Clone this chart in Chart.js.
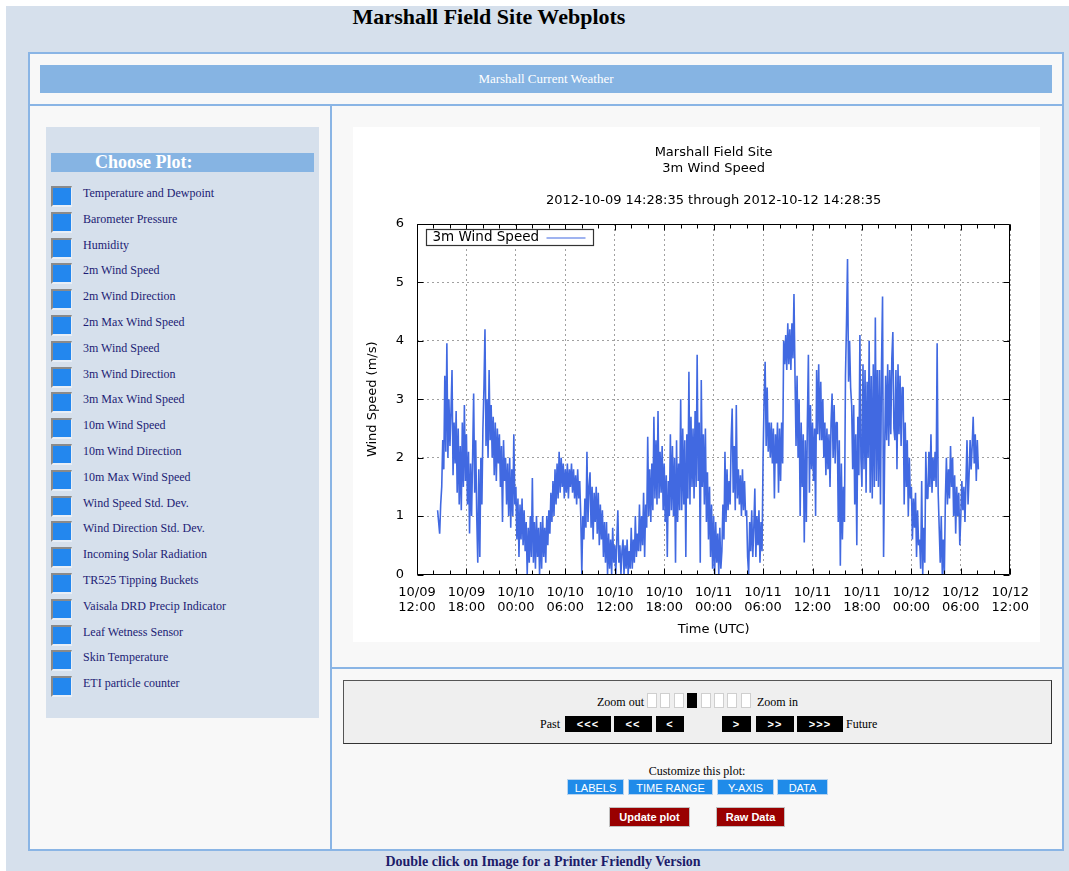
<!DOCTYPE html>
<html>
<head>
<meta charset="utf-8">
<title>Marshall Field Site Webplots</title>
<script src="https://cdn.jsdelivr.net/npm/chart.js@4/dist/chart.umd.min.js"></script>
<style>
  body { margin:0; background:#fff; font-family:"Liberation Serif", "Times New Roman", serif; }
  .abs { position:absolute; box-sizing:border-box; }
  #page { left:6px; top:6px; width:1063px; height:865px; background:#d6e0ec; }
  #title { left:0; top:6px; width:978px; text-align:center; font-size:22px; line-height:22px; font-weight:bold; color:#000; }
  #main { left:28px; top:52px; width:1036px; height:799px; border:2px solid #8ab5e5; background:#f8f8f8; }
  .hline { height:2px; background:#8ab5e5; }
  .vline { width:2px; background:#8ab5e5; }
  #weather { left:40px; top:65px; width:1012px; height:28px; background:#86b4e3; color:#fff; font-size:13px; line-height:27px; text-align:center; }
  #leftPanel { left:46px; top:127px; width:273px; height:591px; background:#d6e0ec; }
  #choose { left:51px; top:153px; width:263px; height:19px; background:#86b4e3; color:#fff; font-size:18px; font-weight:bold; line-height:19px; padding-left:44px; }
  .chk { width:21px; height:21px; background:#2387ee; border-left:2px solid #8a8a8a; border-top:2px solid #8a8a8a; border-right:1px solid #e8eef6; border-bottom:2px solid #e8eef6; }
  .item { font-size:12px; color:#1c1c74; line-height:14px; white-space:nowrap; }
  #chartBox { left:353px; top:127px; width:687px; height:515px; background:#fff; }
  #ctrl { left:343px; top:680px; width:709px; height:64px; background:#efefef; border:1px solid #555; border-right-color:#333; border-bottom-color:#333; }
  .lbl { font-size:12px; color:#000; line-height:16px; white-space:nowrap; }
  .zb { width:10px; height:15px; background:#fff; border:1px solid #cfcfcf; }
  .zb.on { background:#000; border-color:#000; }
  .nav { height:16px; background:#000; color:#fff; font:bold 11px "Liberation Sans", Arial, sans-serif; line-height:16px; text-align:center; letter-spacing:1px; }
  .cust { height:16px; background:#1f8be9; color:#fff; font:11px "Liberation Sans", Arial, sans-serif; line-height:16px; text-align:center; border:1px solid #b8d4f0; }
  .red { height:20px; background:#990000; color:#fff; font:bold 11px "Liberation Sans", Arial, sans-serif; line-height:18px; text-align:center; border:1px solid #c0c0c0; }
  #footer { left:28px; top:854px; width:1030px; text-align:center; font-size:14px; font-weight:bold; color:#1c1c6a; line-height:16px; }
</style>
</head>
<body>
<div id="page" class="abs"></div>
<div id="title" class="abs">Marshall Field Site Webplots</div>
<div id="main" class="abs"></div>
<div class="abs" id="weather">Marshall Current Weather</div>
<div class="abs hline" style="left:30px;top:104px;width:1032px;"></div>
<div class="abs vline" style="left:330px;top:104px;height:745px;"></div>
<div class="abs hline" style="left:332px;top:667px;width:730px;"></div>

<div id="leftPanel" class="abs"></div>
<div id="choose" class="abs">Choose Plot:</div>
<div id="plotList"></div>

<div id="chartBox" class="abs"><canvas id="windChart"></canvas></div>

<div id="ctrl" class="abs"></div>
<div class="abs lbl" style="left:597px;top:694px;">Zoom out</div>
<div id="zoomBoxes"></div>
<div class="abs lbl" style="left:757px;top:694px;">Zoom in</div>
<div class="abs lbl" style="left:540px;top:716px;">Past</div>
<div class="abs nav" style="left:565px;top:716px;width:46px;">&lt;&lt;&lt;</div>
<div class="abs nav" style="left:614px;top:716px;width:38px;">&lt;&lt;</div>
<div class="abs nav" style="left:656px;top:716px;width:28px;">&lt;</div>
<div class="abs nav" style="left:722px;top:716px;width:29px;">&gt;</div>
<div class="abs nav" style="left:756px;top:716px;width:38px;">&gt;&gt;</div>
<div class="abs nav" style="left:797px;top:716px;width:46px;">&gt;&gt;&gt;</div>
<div class="abs lbl" style="left:846px;top:716px;">Future</div>

<div class="abs lbl" style="left:597px;top:763px;width:200px;text-align:center;">Customize this plot:</div>
<div class="abs cust" style="left:567px;top:779px;width:57px;">LABELS</div>
<div class="abs cust" style="left:628px;top:779px;width:85px;">TIME RANGE</div>
<div class="abs cust" style="left:717px;top:779px;width:57px;">Y-AXIS</div>
<div class="abs cust" style="left:777px;top:779px;width:51px;">DATA</div>
<div class="abs red" style="left:609px;top:807px;width:81px;">Update plot</div>
<div class="abs red" style="left:716px;top:807px;width:69px;">Raw Data</div>

<div id="footer" class="abs">Double click on Image for a Printer Friendly Version</div>

<script>
// ---- left menu ----
const plotChoices = [
  "Temperature and Dewpoint", "Barometer Pressure", "Humidity", "2m Wind Speed",
  "2m Wind Direction", "2m Max Wind Speed", "3m Wind Speed", "3m Wind Direction",
  "3m Max Wind Speed", "10m Wind Speed", "10m Wind Direction", "10m Max Wind Speed",
  "Wind Speed Std. Dev.", "Wind Direction Std. Dev.", "Incoming Solar Radiation",
  "TR525 Tipping Buckets", "Vaisala DRD Precip Indicator", "Leaf Wetness Sensor",
  "Skin Temperature", "ETI particle counter"
];
const plotList = document.getElementById("plotList");
plotChoices.forEach((name, i) => {
  const top = 186 + i * 25.8;
  plotList.insertAdjacentHTML("beforeend",
    `<div class="abs chk" style="left:51px;top:${top}px;"></div>` +
    `<div class="abs item" style="left:83px;top:${top}px;">${name}</div>`);
});

// zoom level boxes (4th one is the current level)
const zoomBoxes = document.getElementById("zoomBoxes");
for (let i = 0; i < 8; i++) {
  zoomBoxes.insertAdjacentHTML("beforeend",
    `<div class="abs zb${i === 3 ? " on" : ""}" style="left:${647 + i * 13.4}px;top:693px;"></div>`);
}

// ---- chart data ----
// hours after 10/09 12:00 UTC, one reading every 7.5 min
const sampleStartHour = 2.5;
const sampleStepHours = 0.125;
const windSpeed = [
  1.1, 0.9, 0.7, 1.2,                         // h2.5
  1.5, 2.3, 1.8, 3.4, 2.1, 3.96, 2.0, 3.0,    // h3
  2.2, 2.8, 3.5, 1.7, 2.6, 1.9, 2.8, 1.4,     // h4
  2.5, 1.2, 2.2, 1.1, 2.6, 1.5, 2.9, 1.6,     // h5
  2.4, 1.2, 2.1, 0.7, 1.9, 1.0, 2.0, 3.1,     // h6
  1.4, 2.3, 1.0, 0.2, 1.8, 0.3, 2.0, 1.2,     // h7
  2.5, 3.2, 4.2, 2.2, 3.0, 2.0, 3.5, 2.3,     // h8
  2.9, 2.0, 2.7, 1.7, 2.6, 1.6, 2.5, 1.9,     // h9
  2.4, 1.5, 2.2, 0.9, 2.3, 1.6, 2.0, 1.2,     // h10
  1.9, 1.0, 2.0, 0.8, 1.8, 1.0, 2.4, 1.2,     // h11
  1.5, 0.6, 1.3, 0.3, 1.2, 0.6, 1.3, 0.5,     // h12
  1.1, 0.4, 0.9, 0.0, 0.8, 0.2, 1.0, 0.3,     // h13
  1.65, 0.2, 0.9, 0.1, 1.0, 0.3, 0.8, 0.0,    // h14
  0.9, 0.1, 1.0, 0.3, 0.8, 0.2, 1.0, 0.5,     // h15
  1.1, 0.7, 1.4, 0.9, 1.6, 1.0, 1.8, 1.2,     // h16
  1.9, 1.3, 2.1, 1.4, 2.0, 1.5, 1.9, 1.3,     // h17
  1.8, 1.4, 1.9, 1.3, 1.8, 1.5, 1.9, 1.4,     // h18
  1.8, 1.3, 1.7, 1.2, 1.8, 1.3, 1.6, 1.0,     // h19
  0.0, 1.0, 0.6, 1.3, 0.8, 2.1, 0.9, 1.5,     // h20
  1.75, 0.8, 1.5, 0.6, 1.4, 0.9, 1.5, 0.7,    // h21
  1.4, 0.5, 1.2, 0.6, 1.1, 0.3, 0.9, 0.2,     // h22
  0.9, 0.0, 0.7, 0.1, 0.6, 0.0, 0.8, 0.2,     // h23
  0.5, 0.0, 0.6, 1.1, 0.2, 0.5, 0.0, 0.4,     // h24
  0.6, 0.0, 0.5, 0.1, 0.6, 0.0, 0.4, 0.1,     // h25
  0.8, 0.1, 0.6, 0.2, 1.0, 0.3, 0.7, 0.4,     // h26
  1.2, 0.4, 1.0, 0.5, 1.4, 0.3, 1.2, 0.8,     // h27
  2.36, 1.0, 1.8, 0.9, 1.9, 1.1, 2.7, 1.3,    // h28
  2.3, 1.2, 2.8, 1.3, 2.1, 1.4, 2.2, 1.1,     // h29
  1.9, 0.9, 1.7, 0.3, 1.6, 1.0, 2.4, 1.1,     // h30
  2.2, 1.0, 2.0, 0.2, 2.3, 0.9, 1.9, 1.1,     // h31
  3.0, 1.1, 2.5, 1.2, 2.3, 0.3, 2.4, 1.3,     // h32
  3.47, 1.2, 2.7, 1.5, 2.5, 1.3, 2.8, 1.5,    // h33
  3.76, 1.6, 2.6, 0.2, 3.33, 1.5, 2.4, 1.2,   // h34
  2.5, 0.9, 1.75, 0.6, 1.5, 0.3, 1.2, 0.1,    // h35
  1.0, 0.0, 0.9, 0.2, 0.7, 0.0, 0.8, 0.1,     // h36
  0.4, 1.2, 0.6, 2.1, 0.9, 1.8, 1.1, 1.6,     // h37
  1.2, 2.3, 2.84, 1.4, 2.2, 1.1, 2.9, 1.3,    // h38
  1.8, 1.2, 1.7, 1.0, 1.8, 1.1, 1.6, 1.0,     // h39
  1.1, 0.3, 0.0, 0.9, 0.4, 1.1, 0.3, 0.8,     // h40
  1.47, 0.3, 1.0, 0.5, 1.1, 0.2, 0.9, 0.4,    // h41
  2.0, 3.0, 3.64, 2.2, 3.2, 2.1, 2.6, 2.0,    // h42
  2.6, 1.9, 2.5, 1.3, 2.4, 1.9, 2.6, 1.4,     // h43
  2.5, 1.6, 2.6, 1.9, 4.0, 3.6, 4.1, 3.5,     // h44
  4.3, 3.6, 4.2, 3.5, 4.3, 3.7, 4.8, 3.4,     // h45
  2.2, 3.4, 2.0, 3.0, 1.0, 2.6, 1.5, 2.4,     // h46
  0.55, 2.3, 0.9, 2.6, 3.76, 1.4, 2.9, 1.8,   // h47
  2.6, 1.6, 2.5, 1.0, 3.5, 2.4, 3.6, 2.3,     // h48
  3.3, 2.3, 3.0, 2.0, 2.6, 1.7, 2.5, 1.8,     // h49
  2.4, 1.5, 2.6, 3.1, 2.0, 2.9, 1.9, 2.6,     // h50
  2.6, 0.9, 2.3, 0.15, 1.9, 0.6, 1.5, 0.9,    // h51
  3.4, 4.3, 5.4, 3.3, 4.0, 3.2, 2.9, 1.8,     // h52
  2.9, 1.2, 2.4, 0.5, 2.7, 1.7, 4.1, 2.0,     // h53
  1.5, 3.6, 1.8, 3.5, 1.4, 3.3, 2.0, 4.0,     // h54
  1.4, 3.4, 1.3, 3.6, 1.5, 4.4, 1.6, 3.5,     // h55
  1.5, 3.5, 1.2, 3.6, 4.76, 0.3, 2.0, 3.4,    // h56
  2.3, 3.6, 2.2, 3.5, 2.4, 3.7, 4.15, 2.5,    // h57
  2.3, 3.5, 1.8, 3.6, 2.4, 3.4, 2.2, 3.2,     // h58
  3.2, 1.2, 2.6, 1.5, 2.3, 1.0, 2.0, 1.3,     // h59
  1.5, 0.6, 1.3, 0.8, 1.4, 0.3, 1.1, 0.5,     // h60
  0.6, 0.1, 1.6, 0.0, 0.8, 0.2, 2.1, 1.3,     // h61
  1.3, 2.1, 1.5, 2.4, 1.4, 2.0, 1.6, 2.1,     // h62
  1.5, 3.96, 1.4, 0.8, 0.2, 1.0, 0.0, 0.6,    // h63
  0.0, 1.3, 2.0, 1.2, 1.8, 1.3, 2.2, 1.5,     // h64
  2.0, 1.0, 1.7, 0.7, 1.5, 1.0, 1.4, 0.5,     // h65
  1.0, 1.6, 1.1, 1.5, 0.9, 1.6, 2.3, 1.2,     // h66
  1.7, 2.3, 1.8, 2.2, 2.7, 1.9, 2.4, 1.6,     // h67
  2.3, 1.8                                    // h68
];
const xTickLabels = [
  ["10/09", "12:00"], ["10/09", "18:00"], ["10/10", "00:00"], ["10/10", "06:00"],
  ["10/10", "12:00"], ["10/10", "18:00"], ["10/11", "00:00"], ["10/11", "06:00"],
  ["10/11", "12:00"], ["10/11", "18:00"], ["10/12", "00:00"], ["10/12", "06:00"],
  ["10/12", "12:00"]
];
const titleLines = ["Marshall Field Site", "3m Wind Speed", "", "2012-10-09 14:28:35 through 2012-10-12 14:28:35"];
const seriesLabel = "3m Wind Speed";
const lineColor = "#4169e1";

const points = windSpeed.map((v, i) => ({ x: sampleStartHour + i * sampleStepHours, y: v }));
const font = { family: "'DejaVu Sans', sans-serif", size: 13 };

// gnuplot style frame, inward ticks and boxed key
const gnuFrame = {
  id: "gnuFrame",
  afterDatasetsDraw(chart) {
    const { ctx, chartArea: a, scales: { x, y } } = chart;
    const L = Math.round(a.left) + 0.5, R = Math.round(a.right) - 0.5;
    const T = Math.round(a.top) + 0.5, B = Math.round(a.bottom) - 0.5;
    ctx.save();
    ctx.strokeStyle = "#000";
    ctx.lineWidth = 1;
    ctx.beginPath();
    ctx.rect(L, T, R - L, B - T);
    for (let v = 0; v <= 6; v++) {
      const p = Math.round(y.getPixelForValue(v)) + 0.5;
      ctx.moveTo(L, p); ctx.lineTo(L + 6, p);
      ctx.moveTo(R, p); ctx.lineTo(R - 6, p);
    }
    for (let h = 0; h <= 72; h += 2) {
      const p = Math.round(x.getPixelForValue(h)) + 0.5;
      const len = h % 6 === 0 ? 6 : 4;
      ctx.moveTo(p, B); ctx.lineTo(p, B - len);
      ctx.moveTo(p, T); ctx.lineTo(p, T + len);
    }
    ctx.stroke();

    // key
    const kx = L + 9, ky = T + 5;
    ctx.fillStyle = "#fff";
    ctx.fillRect(kx, ky, 167, 16);
    ctx.strokeStyle = "#333";
    ctx.lineWidth = 1.2;
    ctx.strokeRect(kx, ky, 167, 16);
    ctx.fillStyle = "#000";
    ctx.font = "13.5px 'DejaVu Sans', sans-serif";
    ctx.textBaseline = "middle";
    ctx.fillText(seriesLabel, kx + 6, ky + 8);
    ctx.strokeStyle = lineColor;
    ctx.beginPath();
    ctx.moveTo(kx + 120, ky + 8.5); ctx.lineTo(kx + 159, ky + 8.5);
    ctx.stroke();
    ctx.restore();
  }
};

new Chart(document.getElementById("windChart"), {
  type: "line",
  data: {
    datasets: [{
      label: seriesLabel,
      data: points,
      borderColor: lineColor,
      borderWidth: 1.6,
      borderJoinStyle: "bevel",
      pointRadius: 0,
      tension: 0,
      fill: false
    }]
  },
  options: {
    responsive: true,
    maintainAspectRatio: false,
    animation: false,
    layout: { padding: { top: 0, left: 0, right: 21, bottom: 0 } },
    plugins: {
      legend: { display: false },
      tooltip: { enabled: false },
      title: {
        display: true,
        fullSize: false,
        text: titleLines,
        color: "#000",
        font: { ...font, weight: "normal", lineHeight: "16px" },
        padding: { top: 18, bottom: 15 }
      }
    },
    scales: {
      x: {
        type: "linear",
        min: 0, max: 72,
        border: { display: false, dash: [2, 3] },
        grid: { color: "#a0a0a0", drawTicks: false },
        ticks: {
          stepSize: 6, autoSkip: false, maxRotation: 0, padding: 11,
          color: "#000", font: { ...font, lineHeight: 1.15 },
          callback: (v, i) => xTickLabels[i]
        },
        title: { display: true, text: "Time (UTC)", color: "#000", font, padding: { top: 0, bottom: 5 } },
        afterFit: (s) => { s.height = 67.5; }
      },
      y: {
        min: 0, max: 6,
        border: { display: false, dash: [2, 3] },
        grid: { color: "#a0a0a0", drawTicks: false },
        ticks: { stepSize: 1, padding: 13, color: "#000", font },
        title: { display: true, text: "Wind Speed (m/s)", color: "#000", font, padding: { top: 12, bottom: 0 } },
        afterFit: (s) => { s.width = 64; }
      }
    }
  },
  plugins: [gnuFrame]
});
</script>
</body>
</html>
